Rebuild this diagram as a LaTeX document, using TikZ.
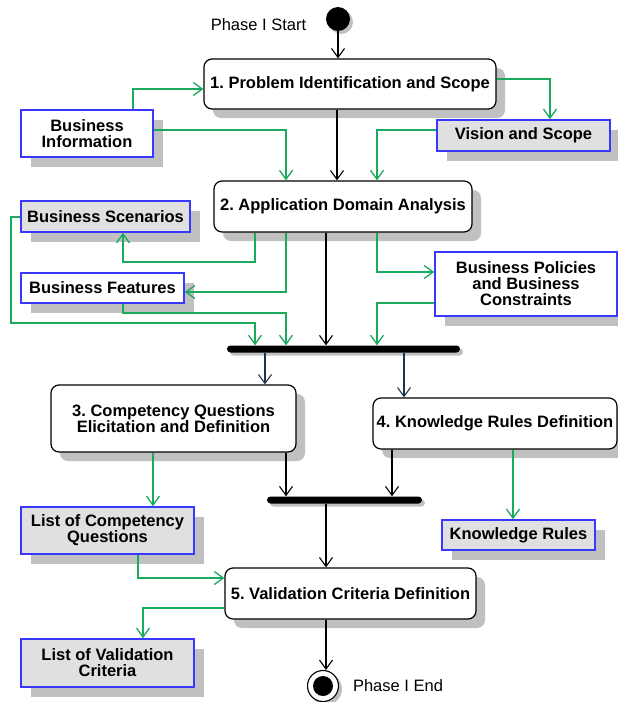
\documentclass[tikz,border=0pt]{standalone}
\usepackage{fontspec}
\setmainfont{Liberation Sans}
\usetikzlibrary{arrows.meta,shadows}
\frenchspacing

\definecolor{objgreen}{HTML}{1AAA5E}
\definecolor{objblue}{HTML}{3838FF}
\definecolor{objfill}{HTML}{E0E0E0}
\definecolor{shadowgray}{HTML}{C0C0C0}
\definecolor{barnavy}{HTML}{1F3347}

\tikzset{
  txt/.style={font=\fontsize{16.5}{16}\selectfont},
  activity/.style={txt, font=\fontsize{16.5}{16}\selectfont\bfseries, align=center,
    rectangle, rounded corners=8pt, draw=black, line width=1.2pt, fill=white,
    inner sep=0pt,
    drop shadow={shadow xshift=9pt, shadow yshift=-9pt, fill=shadowgray, opacity=1}},
  artifact/.style={txt, font=\fontsize{16.5}{16}\selectfont\bfseries, align=center,
    rectangle, draw=objblue, line width=1.6pt, fill=white, inner sep=0pt,
    drop shadow={shadow xshift=10pt, shadow yshift=-10pt, fill=shadowgray, opacity=1}},
  grayartifact/.style={artifact, fill=objfill},
  syncbar/.style={rectangle, rounded corners=3.5pt, fill=black, inner sep=0pt,
    minimum height=7pt,
    drop shadow={shadow xshift=3pt, shadow yshift=-3pt, fill=shadowgray, opacity=1}},
  flow/.style={draw=black, line width=1.1pt, -{Straight Barb[length=9pt,width=13pt,line width=1.1pt]}},
  navyflow/.style={flow, draw=barnavy},
  objflow/.style={draw=objgreen, line width=1.3pt, -{Straight Barb[length=9pt,width=13pt,line width=1.3pt]}},
}

\begin{document}
\begin{tikzpicture}[x=1pt,y=-1pt]
\useasboundingbox (0,0) rectangle (618,702);

% initial and final states
\fill[shadowgray] (341,22) circle (12);
\node[circle, fill=black, minimum size=24pt, inner sep=0pt] (start) at (338,19) {};
\node[txt] (startlbl) at (258.5,25) {Phase I Start};

\fill[shadowgray] (326,689) circle (16);
\node[circle, draw=black, line width=1.1pt, fill=white, minimum size=31pt, inner sep=0pt] (end) at (323,686) {};
\fill[black] (end.center) circle (10);
\node[txt] (endlbl) at (398,686) {Phase I End};

% activities
\node[activity, minimum width=292pt, minimum height=50pt] (p1) at (350,84) {1. Problem Identification and Scope};
\node[activity, minimum width=258pt, minimum height=51pt] (p2) at (343,206.5) {2. Application Domain Analysis};
\node[activity, minimum width=245pt, minimum height=67pt] (p3) at (173.5,418.5) {3. Competency Questions\\ Elicitation and Definition};
\node[activity, minimum width=244pt, minimum height=51pt] (p4) at (495,423.5) {4. Knowledge Rules Definition};
\node[activity, minimum width=251pt, minimum height=51pt] (p5) at (350.5,593.5) {5. Validation Criteria Definition};

% artifacts
\node[artifact, minimum width=132pt, minimum height=47pt] (bi) at (87,133.5) {Business\\Information};
\node[grayartifact, minimum width=173pt, minimum height=31pt] (vs) at (523.5,135.5) {Vision and Scope};
\node[grayartifact, minimum width=169pt, minimum height=31pt] (bs) at (105.5,216.5) {Business Scenarios};
\node[artifact, minimum width=163pt, minimum height=30pt] (bf) at (102.5,288) {Business Features};
\node[artifact, minimum width=182pt, minimum height=64pt] (bp) at (526,284) {Business Policies\\and Business\\Constraints};
\node[grayartifact, minimum width=173pt, minimum height=47pt] (lcq) at (107.5,530.5) {List of Competency\\Questions};
\node[grayartifact, minimum width=153pt, minimum height=30pt] (kr) at (518.5,535) {Knowledge Rules};
\node[grayartifact, minimum width=173pt, minimum height=48pt] (lvc) at (107.5,663) {List of Validation\\Criteria};

% synchronisation bars
\node[syncbar, minimum width=233pt] (bar1) at (343.5,349) {};
\node[syncbar, minimum width=155pt] (bar2) at (344.5,500) {};

% control flow
\draw[flow] (start.south) -- (start.south |- p1.north);
\draw[flow] (p1.south -| 337,0) -- (p2.north -| 337,0);
\draw[flow] (p2.south -| 326,0) -- (bar1.north -| 326,0);
\draw[navyflow] (bar1.south -| 265,0) -- (p3.north -| 265,0);
\draw[navyflow] (bar1.south -| 404,0) -- (p4.north -| 404,0);
\draw[flow] (p3.south -| 286,0) -- (bar2.north -| 286,0);
\draw[flow] (p4.south -| 392,0) -- (bar2.north -| 392,0);
\draw[flow] (bar2.south -| 326,0) -- (p5.north -| 326,0);
\draw[flow] (p5.south -| 326,0) -- (end.north -| 326,0);

% object flow
\draw[objflow] (bi.north -| 133,0) |- (p1.west |- 0,89);
\draw[objflow] (bi.east |- 0,130) -| (p2.north -| 286,0);
\draw[objflow] (p1.east |- 0,79) -| (vs.north -| 550,0);
\draw[objflow] (vs.west |- 0,130) -| (p2.north -| 377,0);
\draw[objflow] (p2.south -| 255,0) |- (123,262) -- (bs.south -| 123,0);
\draw[objflow] (p2.south -| 286,0) |- (bf.east |- 0,292);
\draw[objflow] (bs.west |- 0,217) -| (11,323) -| (bar1.north -| 255,0);
\draw[objflow] (bf.south -| 123,0) |- (286,313) -- (bar1.north -| 286,0);
\draw[objflow] (p2.south -| 377,0) |- (bp.west |- 0,272);
\draw[objflow] (bp.west |- 0,303) -| (bar1.north -| 377,0);
\draw[objflow] (p3.south -| 153,0) -- (lcq.north -| 153,0);
\draw[objflow] (p4.south -| 513,0) -- (kr.north -| 513,0);
\draw[objflow] (lcq.south -| 138,0) |- (p5.west |- 0,578);
\draw[objflow] (p5.west |- 0,608) -| (lvc.north -| 143,0);
\end{tikzpicture}
\end{document}
